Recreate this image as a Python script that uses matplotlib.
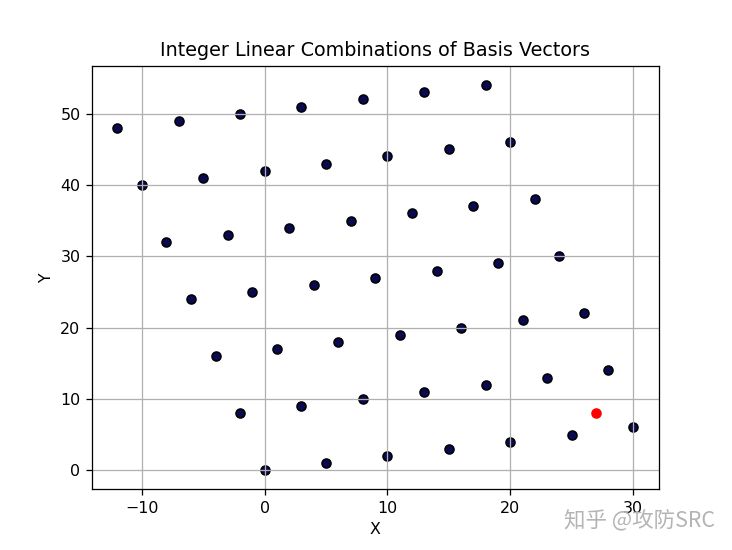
import matplotlib.pyplot as plt

# lattice points (row by row, bottom to top)
xs = [0, 5, 10, 15, 20, 25, 30,
      -2, 3, 8, 13, 18, 23, 28,
      -4, 1, 6, 11, 16, 21, 26,
      -6, -1, 4, 9, 14, 19, 24,
      -8, -3, 2, 7, 12, 17, 22,
      -10, -5, 0, 5, 10, 15, 20,
      -12, -7, -2, 3, 8, 13, 18]
ys = [0, 1, 2, 3, 4, 5, 6,
      8, 9, 10, 11, 12, 13, 14,
      16, 17, 18, 19, 20, 21, 22,
      24, 25, 26, 27, 28, 29, 30,
      32, 33, 34, 35, 36, 37, 38,
      40, 41, 42, 43, 44, 45, 46,
      48, 49, 50, 51, 52, 53, 54]

# highlighted target point
target_x = [27]
target_y = [8]

fig = plt.figure(figsize=(6.4, 4.81), dpi=114.375)
ax = fig.add_subplot(111)

ax.scatter(xs, ys, s=32, color='#0a0a50', edgecolors='black')
ax.scatter(target_x, target_y, s=32, color='red')

ax.set_title('Integer Linear Combinations of Basis Vectors')
ax.set_xlabel('X')
ax.set_ylabel('Y')
ax.grid(True)

# watermark
fig.text(0.977, 0.032, '知乎 @攻防SRC', ha='right', va='bottom', fontsize=13.5,
         color='#b4b4b4', family=['Noto Sans CJK SC', 'DejaVu Sans'])

plt.savefig('out.png')
